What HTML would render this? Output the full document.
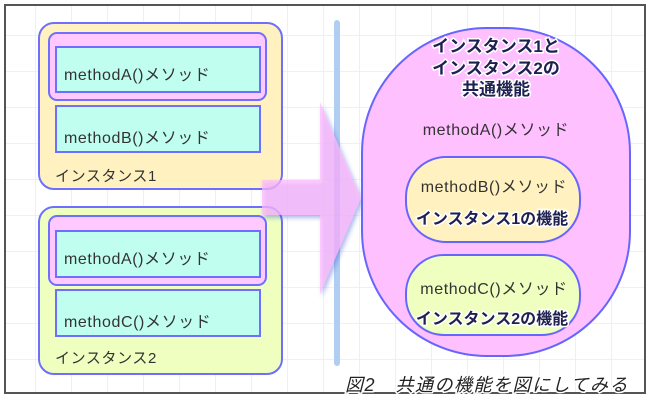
<!DOCTYPE html>
<html><head><meta charset="utf-8"><style>
body{margin:0;width:650px;height:400px;overflow:hidden;background:#fff}
svg text{font-family:"Liberation Sans","Noto Sans CJK JP",sans-serif}
</style></head><body>
<svg width="650" height="400" viewBox="0 0 650 400" xmlns="http://www.w3.org/2000/svg">
<defs>
<pattern id="g" width="36" height="36" patternUnits="userSpaceOnUse" x="0" y="0">
<path d="M36 0V36M0 36H36" stroke="#ececf0" stroke-width="1.5" fill="none"/>
</pattern>
<filter id="sh" x="-20%" y="-20%" width="140%" height="140%"><feDropShadow dx="2" dy="3" stdDeviation="2" flood-color="#4060d0" flood-opacity="0.6"/></filter>
</defs>
<rect x="0" y="0" width="650" height="400" fill="#fff"/>
<rect x="5" y="5" width="640" height="388" fill="url(#g)"/>
<rect x="5" y="5" width="640" height="388" fill="none" stroke="#555" stroke-width="2"/>

<g font-size="16" fill="#333" letter-spacing="0.6">
<rect x="39" y="23" width="243" height="166" rx="15" fill="#fff2c0" stroke="#6f6fff" stroke-width="2"/>
<rect x="49" y="33" width="217" height="67" rx="8" fill="#ffc8ff" stroke="#6f6fff" stroke-width="2"/>
<rect x="56" y="47" width="204" height="45" fill="#c0fff0" stroke="#6f6fff" stroke-width="2"/>
<rect x="56" y="106" width="204" height="46" fill="#c0fff0" stroke="#6f6fff" stroke-width="2"/>
<text x="64" y="80">methodA()メソッド</text>
<text x="64" y="143">methodB()メソッド</text>
<text x="55" y="181" font-size="15">インスタンス1</text>

<rect x="39" y="207" width="243" height="167" rx="15" fill="#eeffc0" stroke="#6f6fff" stroke-width="2"/>
<rect x="49" y="216" width="217" height="69" rx="8" fill="#ffc8ff" stroke="#6f6fff" stroke-width="2"/>
<rect x="56" y="231" width="204" height="46" fill="#c0fff0" stroke="#6f6fff" stroke-width="2"/>
<rect x="56" y="290" width="204" height="46" fill="#c0fff0" stroke="#6f6fff" stroke-width="2"/>
<text x="64" y="264">methodA()メソッド</text>
<text x="64" y="327">methodC()メソッド</text>
<text x="55" y="363" font-size="15">インスタンス2</text>
</g>

<rect x="334" y="20" width="6" height="346" rx="3" fill="#b0cdf2"/>

<path d="M262 180H320V102L361 198L320 294V215H262Z" fill="#ffb8ff" fill-opacity="0.7" filter="url(#sh)"/>

<rect x="362" y="28" width="268" height="328" rx="125" fill="#ffc0ff" stroke="#6666ff" stroke-width="2"/>
<g font-size="17" font-weight="bold" fill="#1e2050" stroke="#fff" stroke-width="3" paint-order="stroke" text-anchor="middle">
<text x="496" y="52">インスタンス1と</text>
<text x="496" y="74">インスタンス2の</text>
<text x="496" y="95">共通機能</text>
</g>
<g font-size="16" fill="#333" text-anchor="middle" letter-spacing="0.6">
<text x="496" y="135">methodA()メソッド</text>
<rect x="406" y="157" width="174" height="85" rx="40" fill="#fff2c0" stroke="#6666ff" stroke-width="2"/>
<text x="494" y="192">methodB()メソッド</text>
<rect x="406" y="255" width="174" height="80" rx="38" fill="#eeffc0" stroke="#6666ff" stroke-width="2"/>
<text x="494" y="294">methodC()メソッド</text>
</g>
<text x="492" y="224" font-size="16" font-weight="bold" fill="#1e2050" stroke="#fff" stroke-width="3" paint-order="stroke" text-anchor="middle">インスタンス1の機能</text>
<text x="492" y="324" font-size="16" font-weight="bold" fill="#1e2050" stroke="#fff" stroke-width="3" paint-order="stroke" text-anchor="middle">インスタンス2の機能</text>

<text x="345" y="391" font-size="18" font-style="italic" letter-spacing="1.5" fill="#222" stroke="#fff" stroke-width="3" paint-order="stroke">図2　共通の機能を図にしてみる</text>
</svg>
</body></html>
